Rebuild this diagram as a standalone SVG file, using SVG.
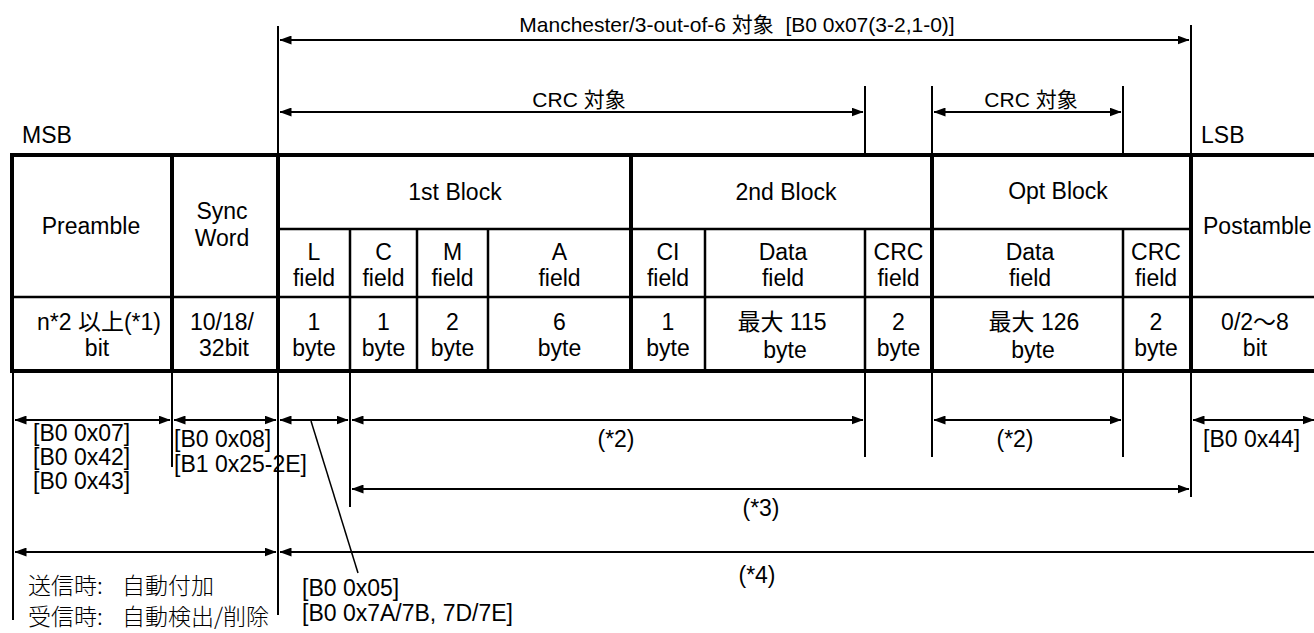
<svg xmlns="http://www.w3.org/2000/svg" width="1314" height="633" viewBox="0 0 1314 633">
<defs>
<marker id="ah" markerUnits="userSpaceOnUse" markerWidth="12" markerHeight="9" refX="11.5" refY="4.5" orient="auto-start-reverse" viewBox="0 0 12 9"><path d="M0,0 L12,4.5 L0,9 z" fill="#000"/></marker>
</defs>
<style>
text{font-family:"Liberation Sans","Noto Sans CJK JP",sans-serif;fill:#000}
.t{font-size:23px;text-anchor:middle}
.top{font-size:21px;text-anchor:middle}
.lb{font-size:23px}
.c{text-anchor:middle}
.jp{font-family:"Noto Sans CJK JP",sans-serif;font-size:23px;font-weight:300}
.thick{stroke:#000;stroke-width:4;fill:none}
.thin{stroke:#000;stroke-width:2.5;fill:none}
.ext{stroke:#000;stroke-width:2;fill:none}
.arr{stroke:#000;stroke-width:2;fill:none;marker-start:url(#ah);marker-end:url(#ah)}
.arrs{stroke:#000;stroke-width:2;fill:none;marker-start:url(#ah)}
.lead{stroke:#000;stroke-width:1.5;fill:none}
</style>
<rect width="1314" height="633" fill="#fff"/>

<g id="table-grid">
<path class="thin" d="M278,229 H1191 M12,297 H1314 M350,229 V371 M417,229 V371 M488,229 V371 M705,229 V371 M865,229 V371 M1123,229 V371"/>
<path class="thick" d="M10,155 H1314 M10,371 H1314 M12,153 V373 M172,155 V371 M278,155 V371 M631,155 V371 M932,155 V371 M1191,155 V371"/>
</g>

<g id="labels-top">
<text class="top" x="737" y="32" xml:space="preserve">Manchester/3-out-of-6 対象  [B0 0x07(3-2,1-0)]</text>
<text class="top" x="579" y="107">CRC 対象</text>
<text class="top" x="1031" y="107">CRC 対象</text>
<text class="lb" x="22" y="143">MSB</text>
<text class="lb" x="1201" y="143">LSB</text>
</g>

<g id="node-preamble"><text class="t" x="91" y="234">Preamble</text><text class="t" x="99" y="330">n*2 以上(*1)</text><text class="t" x="97" y="356">bit</text></g>
<g id="node-sync"><text class="t" x="222" y="219">Sync</text><text class="t" x="222" y="246">Word</text><text class="t" x="222" y="330">10/18/</text><text class="t" x="224" y="356">32bit</text></g>
<g id="node-1st-block"><text class="t" x="455" y="200">1st Block</text></g>
<g id="node-l"><text class="t" x="314" y="260">L</text><text class="t" x="314" y="286">field</text><text class="t" x="314" y="330">1</text><text class="t" x="314" y="356">byte</text></g>
<g id="node-c"><text class="t" x="383.5" y="260">C</text><text class="t" x="383.5" y="286">field</text><text class="t" x="383.5" y="330">1</text><text class="t" x="383.5" y="356">byte</text></g>
<g id="node-m"><text class="t" x="452.5" y="260">M</text><text class="t" x="452.5" y="286">field</text><text class="t" x="452.5" y="330">2</text><text class="t" x="452.5" y="356">byte</text></g>
<g id="node-a"><text class="t" x="559.5" y="260">A</text><text class="t" x="559.5" y="286">field</text><text class="t" x="559.5" y="330">6</text><text class="t" x="559.5" y="356">byte</text></g>
<g id="node-2nd-block"><text class="t" x="786" y="200">2nd Block</text></g>
<g id="node-ci"><text class="t" x="668" y="260">CI</text><text class="t" x="668" y="286">field</text><text class="t" x="668" y="330">1</text><text class="t" x="668" y="356">byte</text></g>
<g id="node-data2"><text class="t" x="783" y="260">Data</text><text class="t" x="783" y="286">field</text><text class="t" x="782" y="330">最大 115</text><text class="t" x="785" y="358">byte</text></g>
<g id="node-crc2"><text class="t" x="898.5" y="260">CRC</text><text class="t" x="898.5" y="286">field</text><text class="t" x="898.5" y="330">2</text><text class="t" x="898.5" y="356">byte</text></g>
<g id="node-opt-block"><text class="t" x="1058" y="199">Opt Block</text></g>
<g id="node-data-opt"><text class="t" x="1030" y="260">Data</text><text class="t" x="1030" y="286">field</text><text class="t" x="1034" y="330">最大 126</text><text class="t" x="1033" y="358">byte</text></g>
<g id="node-crc-opt"><text class="t" x="1156" y="260">CRC</text><text class="t" x="1156" y="286">field</text><text class="t" x="1156" y="330">2</text><text class="t" x="1156" y="356">byte</text></g>
<g id="node-postamble"><text class="lb" x="1203" y="234">Postamble</text><text class="t" x="1255" y="330">0/2〜8</text><text class="t" x="1255" y="356">bit</text></g>

<g id="connectors">
<path class="ext" d="M278,26 V155 M1191,25 V155 M865,86 V155 M932,86 V155 M1123,86 V155"/>
<path class="ext" d="M13,371 V620 M172,371 V467 M278,371 V615 M350,371 V507 M865,371 V457 M932,371 V457 M1123,371 V457 M1191,371 V497"/>
<path class="arr" d="M280,40 H1189"/>
<path class="arr" d="M280,112 H863"/>
<path class="arr" d="M934,112 H1121"/>
<path class="arr" d="M15,420 H170"/>
<path class="arr" d="M174,420 H276"/>
<path class="arr" d="M280,420 H348"/>
<path class="arr" d="M352,420 H863"/>
<path class="arr" d="M934,420 H1121"/>
<path class="arr" d="M1193,420 H1314"/>
<path class="arr" d="M352,489 H1189"/>
<path class="arr" d="M15,552 H276"/>
<path class="arrs" d="M280,552 H1320"/>
<path class="lead" d="M311,421 L358,573"/>
</g>

<g id="labels-bottom">
<text class="lb" x="33" y="441">[B0 0x07]</text>
<text class="lb" x="33" y="465">[B0 0x42]</text>
<text class="lb" x="33" y="489">[B0 0x43]</text>
<text class="lb" x="174" y="447">[B0 0x08]</text>
<text class="lb" x="174" y="472">[B1 0x25-2E]</text>
<text class="lb c" x="616" y="447">(*2)</text>
<text class="lb c" x="1015" y="447">(*2)</text>
<text class="lb" x="1203" y="447">[B0 0x44]</text>
<text class="lb c" x="761" y="516">(*3)</text>
<text class="lb c" x="757" y="583">(*4)</text>
<text class="lb" x="302" y="596">[B0 0x05]</text>
<text class="lb" x="302" y="621">[B0 0x7A/7B, 7D/7E]</text>
<text class="jp" x="28" y="594">送信時:<tspan x="122">自動付加</tspan></text>
<text class="jp" x="28" y="625">受信時:<tspan x="122">自動検出/削除</tspan></text>
</g>
</svg>
